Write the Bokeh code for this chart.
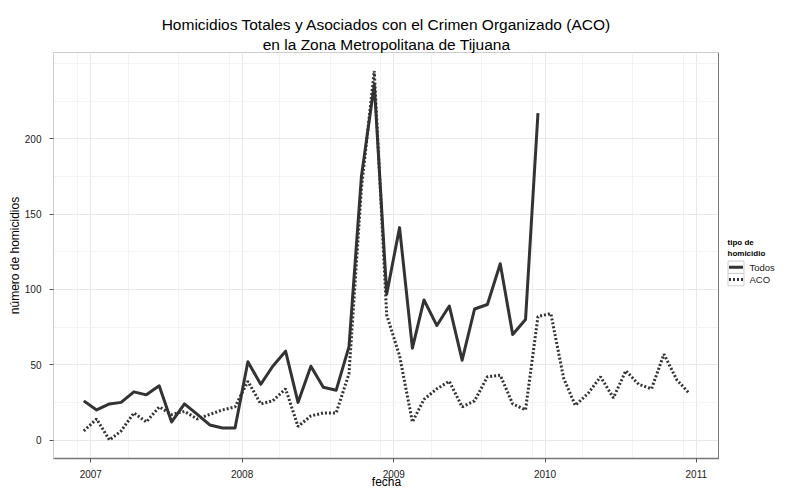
import pandas as pd
from bokeh.plotting import figure
from bokeh.layouts import row
from bokeh.core.properties import value
from bokeh.models import (ColumnDataSource, FixedTicker, DatetimeTickFormatter,
                          Range1d, Title, Span, Spacer)
from bokeh.embed import file_html
from bokeh.resources import INLINE

# ---- data (monthly, Dec 2006 onwards) ----
todos = [26, 20, 24, 25, 32, 30, 36, 12, 24, 17, 10, 8, 8,
         52, 37, 49, 59, 25, 49, 35, 33, 62, 175, 236, 97,
         141, 61, 93, 76, 89, 53, 87, 90, 117, 70, 80, 217]
aco = [6, 14, 0, 6, 18, 12, 22, 17, 19, 14, 17, 20, 22,
       39, 24, 26, 34, 9, 16, 18, 18, 44, 167, 245, 83,
       56, 12, 27, 34, 39, 22, 26, 42, 43, 24, 20, 82,
       84, 41, 23, 31, 42, 28, 46, 37, 34, 57, 40, 31]
first_month = "2006-12-01"
year_labels = [2007, 2008, 2009, 2010, 2011]
y_ticks = [0, 50, 100, 150, 200]
y_minor = [25, 75, 125, 175, 225, 250]

title_line1 = "Homicidios Totales y Asociados con el Crimen Organizado (ACO)"
title_line2 = "en la Zona Metropolitana de Tijuana"
x_title = "fecha"
y_title = "número de homicidios"
legend_title = ["tipo de", "homicidio"]
series_names = ["Todos", "ACO"]
series_dash = ["solid", "2 2"]


def ms(ts):
    return (pd.Timestamp(ts) - pd.Timestamp("1970-01-01")) // pd.Timedelta(milliseconds=1)


f_todos = pd.date_range(first_month, periods=len(todos), freq="MS") + pd.Timedelta(days=14)
f_aco = pd.date_range(first_month, periods=len(aco), freq="MS") + pd.Timedelta(days=14)

src_t = ColumnDataSource(dict(fecha=f_todos, n=todos))
src_a = ColumnDataSource(dict(fecha=f_aco, n=aco))

x0, x1 = ms(f_aco[0]), ms(f_aco[-1])
span = x1 - x0
xr = Range1d(x0 - 0.05 * span, x1 + 0.05 * span)
ymin, ymax = min(aco + todos), max(aco + todos)
yspan = ymax - ymin
yr = Range1d(ymin - 0.05 * yspan, ymax + 0.05 * yspan)

major_x = [ms(f"{y}-01-01") for y in year_labels]
minor_x = [ms(d) for d in pd.date_range("2006-12-01", "2010-12-01", freq="4MS")]

FONT = "Liberation Sans"
LINE_COLOR = "#333333"

p = figure(x_axis_type="datetime", x_range=xr, y_range=yr, title=None,
           frame_width=666, frame_height=406,
           min_border_left=45, min_border_top=52, min_border_bottom=30,
           min_border_right=0,
           output_backend="svg", toolbar_location=None,
           background_fill_color="white", border_fill_color="white")

t2 = Title(text=title_line2, align="center", text_font=FONT, text_font_size="15.5px",
           text_font_style="normal", text_color="#000000", standoff=0)
t1 = Title(text=title_line1, align="center", text_font=FONT, text_font_size="15.5px",
           text_font_style="normal", text_color="#000000", standoff=2)
p.add_layout(t2, "above")
p.add_layout(t1, "above")

p.outline_line_color = "#cccccc"
p.outline_line_width = 1

# axes
p.xaxis.ticker = FixedTicker(ticks=major_x, minor_ticks=minor_x)
p.xaxis.formatter = DatetimeTickFormatter(years="%Y", months="%Y", days="%Y",
                                          hours="%Y", minutes="%Y", seconds="%Y")
p.yaxis.ticker = FixedTicker(ticks=y_ticks, minor_ticks=y_minor)

for ax in (p.xaxis[0], p.yaxis[0]):
    ax.major_label_text_font = FONT
    ax.major_label_text_font_size = "10px"
    ax.major_label_text_color = "#1a1a1a"
    ax.major_tick_in = 0
    ax.major_tick_out = 4
    ax.major_tick_line_color = "#555555"
    ax.minor_tick_line_color = None
    ax.axis_label_text_font = FONT
    ax.axis_label_text_font_size = "12px"
    ax.axis_label_text_font_style = "normal"
    ax.axis_label_text_color = "#000000"

p.xaxis.axis_label = x_title
p.xaxis.axis_line_color = "#777777"
p.xaxis.axis_line_width = 1.5
p.xaxis.major_label_standoff = 7
p.xaxis.axis_label_standoff = -6

p.yaxis.axis_label = y_title
p.yaxis.axis_line_color = "#cccccc"
p.yaxis.major_label_standoff = 8
p.yaxis.axis_label_standoff = 0

p.add_layout(Span(location=xr.end, dimension="height", line_color="#777777",
                  line_width=3))

# grids
p.xgrid.grid_line_color = "#e8e8e8"
p.ygrid.grid_line_color = "#e8e8e8"
p.xgrid.minor_grid_line_color = "#f3f3f3"
p.ygrid.minor_grid_line_color = "#f3f3f3"

p.line("fecha", "n", source=src_t, line_color=LINE_COLOR, line_width=3,
       line_join="round")
p.line("fecha", "n", source=src_a, line_color=LINE_COLOR, line_width=3,
       line_dash=series_dash[1])

# ---- legend panel (separate small figure, coordinates in pixels) ----
LW, LH = 70, 484
lg = figure(width=LW, height=LH, x_range=Range1d(0, LW), y_range=Range1d(0, LH),
            x_axis_location=None, y_axis_location=None, title=None,
            min_border=0, output_backend="svg", toolbar_location=None,
            outline_line_color=None, background_fill_color="white",
            border_fill_color="white")
lg.grid.visible = False

lg.text(x=[8, 8], y=[253, 240], text=legend_title, text_font=value(FONT),
        text_font_size="8px", text_font_style="bold", text_color="#000000",
        text_baseline="middle", text_align="left")
box_top = [231, 216]
for i, name in enumerate(series_names):
    top = box_top[i]
    lg.quad(left=[8.5], right=[24.5], top=[top], bottom=[top - 15],
            fill_color="white", line_color="#cccccc", line_width=1)
    ymid = top - 7.5
    lg.line(x=[9.5, 23.5], y=[ymid, ymid], line_color=LINE_COLOR, line_width=3,
            line_dash=series_dash[i])
    lg.text(x=[30], y=[ymid], text=[name], text_font=value(FONT),
            text_font_size="9.5px", text_color="#1a1a1a",
            text_baseline="middle", text_align="left")

open("out.html", "w").write(file_html(row(Spacer(width=4, height=10), p, lg), INLINE))
